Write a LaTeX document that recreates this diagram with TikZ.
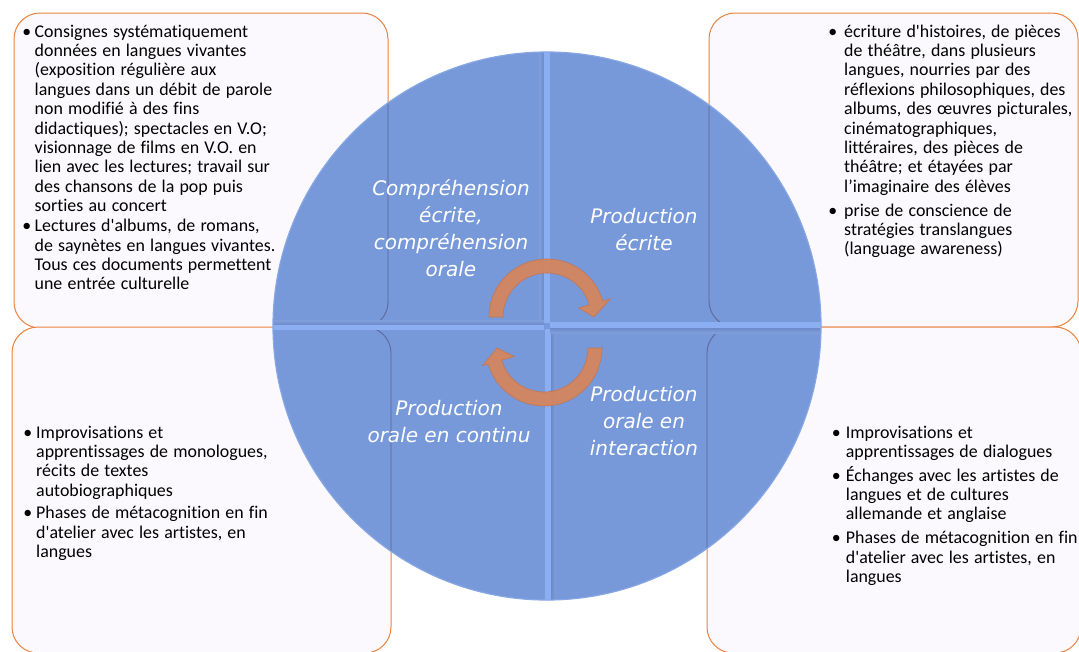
\documentclass[tikz,border=0pt]{standalone}
\usepackage{fontspec}
\setmainfont{Carlito}[Ligatures={TeXOff,NoCommon}]
\newfontfamily\labfont{DejaVu Sans}[Ligatures=TeXOff]
\usetikzlibrary{calc}
\definecolor{boxfill}{HTML}{FBF9FD}
\definecolor{boxline}{HTML}{EA8440}
\definecolor{disc}{HTML}{6E92D7}
\definecolor{discrim}{HTML}{86A6E4}
\definecolor{bevlight}{HTML}{8CAEF2}
\definecolor{bevdark}{HTML}{6C8AC9}
\definecolor{inline}{HTML}{5E6B9C}
\definecolor{arrowc}{HTML}{D6855C}
\definecolor{arrowline}{HTML}{C27552}
\newcommand\bu[1]{\makebox[0pt][r]{•\hspace{#1}}}
\newcommand\widesp{\spaceskip=5.2pt plus 1pt\relax}
\begin{document}
\begin{tikzpicture}[x=1pt,y=-1pt,
  box/.style={draw=boxline, line width=1pt, fill=boxfill, rounded corners=26pt},
  boxin/.style={draw=inline, line width=0.9pt, rounded corners=26pt},
  txt/.style={inner sep=0pt, anchor=base west, font=\fontsize{17.9}{19.4}\selectfont},
  lab/.style={inner sep=0pt, anchor=base, text=white, font=\labfont\itshape\fontsize{20}{27}\selectfont},
  cyc/.style={fill=arrowc, fill opacity=0.93, draw=arrowline, line width=0.6pt}]
\useasboundingbox (0,0) rectangle (1079,651);
\fill[white] (0,0) rectangle (1079,651);

% boxes
\path[box] (14,13) rectangle (388,328);
\path[box] (709,13) rectangle (1078,327);
\path[box] (12,327) rectangle (391,653);
\path[box] (707,327) rectangle (1081,653);

% disc
\coordinate (c) at (547,326);
\fill[disc, fill opacity=0.93] (c) circle[radius=274];
\begin{scope}
  \clip (c) circle[radius=274];
  \path[boxin] (14,13) rectangle (388,328);
  \path[boxin] (709,13) rectangle (1078,327);
  \path[boxin] (12,327) rectangle (391,653);
  \path[boxin] (707,327) rectangle (1081,653);
  % bevels
  \shade[left color=disc!88!white, right color=bevdark] (539,40) rectangle (544,323);
  \fill[bevlight] (544,40) rectangle (550,323);
  \fill[bevlight] (545,329) rectangle (551,612);
  \shade[left color=bevdark, right color=disc!88!white] (551,329) rectangle (556,612);
  \shade[top color=disc!88!white, bottom color=bevdark] (260,320) rectangle (544,325);
  \fill[bevlight] (260,325) rectangle (544,330);
  \fill[bevlight] (550,322) rectangle (835,328);
  \shade[top color=bevdark, bottom color=disc!88!white] (550,328) rectangle (835,333);
\end{scope}
\draw[discrim, line width=1.2pt] (c) circle[radius=274];

% cycle arrows
\coordinate (ca) at (547,317);
\coordinate (cb) at (544,348);
\path[cyc] ($(ca)+(180:58)$) arc[start angle=180, end angle=344, radius=58]
  -- ($(ca)+(344:66)$) -- ($(ca)+(0:47)$) -- ($(ca)+(344:33)$) -- ($(ca)+(344:44)$)
  arc[start angle=344, end angle=180, radius=44] -- cycle;
\path[cyc] ($(cb)+(0:58)$) arc[start angle=0, end angle=164, radius=58]
  -- ($(cb)+(164:64)$) -- ($(cb)+(180:47)$) -- ($(cb)+(164:31)$) -- ($(cb)+(164:44)$)
  arc[start angle=164, end angle=0, radius=44] -- cycle;

% quadrant labels
\node[lab] (q1) at (451,195) {\begin{tabular}[t]{@{}c@{}}Compréhension\\ écrite,\\ compréhension\\ orale\end{tabular}};
\node[lab] (q2) at (644,223.3) {\begin{tabular}[t]{@{}c@{}}Production\\ écrite\end{tabular}};
\node[lab] (q3) at (449,415) {\begin{tabular}[t]{@{}c@{}}Production\\ orale en continu\end{tabular}};
\node[lab] (q4) at (644,401.7) {\begin{tabular}[t]{@{}c@{}}Production\\ orale en\\ interaction\end{tabular}};

% box texts
\node[txt] (t1) at (34.5,37) {\widesp\begin{tabular}[t]{@{}l@{}}
\bu{3.5pt}Consignes systématiquement\\
données en langues vivantes\\
(exposition régulière aux\\
langues dans un débit de parole\\
non modifié à des fins\\
didactiques); spectacles en V.O;\\
visionnage de films en V.O. en\\
lien avec les lectures; travail sur\\
des chansons de la pop puis\\
sorties au concert\\[0.6pt]
\bu{3.5pt}Lectures d'albums, de romans,\\
de saynètes en langues vivantes.\\
Tous ces documents permettent\\
une entrée culturelle
\end{tabular}};

\node[txt] (t2) at (844,37) {\widesp\begin{tabular}[t]{@{}l@{}}
\bu{7pt}écriture d'histoires, de pièces\\
de théâtre, dans plusieurs\\
langues, nourries par des\\
réflexions philosophiques, des\\
albums, des œuvres picturales,\\
cinématographiques,\\
littéraires, des pièces de\\
théâtre; et étayées par\\
l’imaginaire des élèves\\[4.5pt]
\bu{7pt}prise de conscience de\\
stratégies translangues\\
(language awareness)
\end{tabular}};

\node[txt] (t3) at (36,438) {\widesp\begin{tabular}[t]{@{}l@{}}
\bu{4pt}Improvisations et\\
apprentissages de monologues,\\
récits de textes\\
autobiographiques\\[3.2pt]
\bu{4pt}Phases de métacognition en fin\\
d'atelier avec les artistes, en\\
langues
\end{tabular}};

\node[txt] (t4) at (845.7,438) {\widesp\begin{tabular}[t]{@{}l@{}}
\bu{5pt}Improvisations et\\
apprentissages de dialogues\\[4.3pt]
\bu{5pt}\smash{Échanges avec les artistes de}\\
langues et de cultures\\
allemande et anglaise\\[4.3pt]
\bu{5pt}Phases de métacognition en fin\\
d'atelier avec les artistes, en\\
langues
\end{tabular}};
\end{tikzpicture}
\end{document}
